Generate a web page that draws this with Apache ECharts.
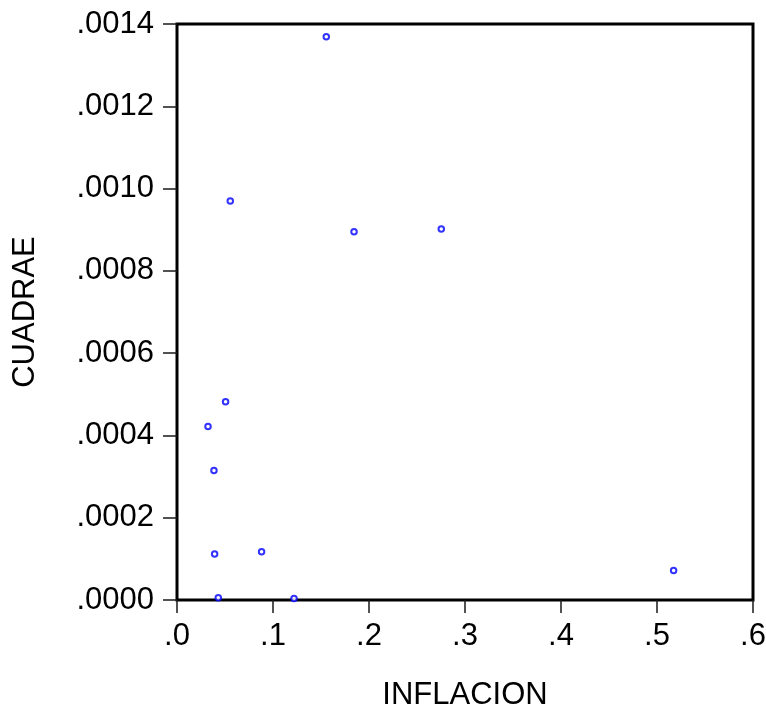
<!DOCTYPE html>
<html>
<head>
<meta charset="utf-8">
<script src="https://cdn.jsdelivr.net/npm/echarts@6/dist/echarts.min.js"></script>
<style>
  html, body { margin: 0; padding: 0; background: #ffffff; }
  #chart { width: 766px; height: 711px; }
</style>
</head>
<body>
<div id="chart"></div>
<script>
// Scatter of CUADRAE against INFLACION
const inflacion = [0.1555, 0.0555, 0.1844, 0.2753, 0.0506, 0.0323, 0.0385, 0.0392, 0.0881, 0.0430, 0.1219, 0.5173];
const cuadrae   = [0.001369, 0.000970, 0.000895, 0.000902, 0.000482, 0.000422, 0.000315, 0.000112, 0.000117, 0.0000053, 0.0000036, 0.0000717];

const xName = 'INFLACION';
const yName = 'CUADRAE';
const xRange = { min: 0, max: 0.6, step: 0.1 };
const yRange = { min: 0, max: 0.0014, step: 0.0002 };

const points = inflacion.map((x, i) => [x, cuadrae[i]]);

const font = 'Liberation Sans, Arial, sans-serif';
const fontSize = 31;

const chart = echarts.init(document.getElementById('chart'), null, { renderer: 'canvas' });

chart.setOption({
  backgroundColor: '#ffffff',
  animation: false,
  grid: {
    left: 177, top: 24, width: 576, height: 576,
    outerBoundsMode: 'none', containLabel: false,
    show: true, borderColor: '#000000', borderWidth: 3, backgroundColor: 'transparent'
  },
  xAxis: {
    type: 'value',
    min: xRange.min, max: xRange.max, interval: xRange.step,
    name: xName, nameLocation: 'middle', nameGap: 80,
    nameTextStyle: { fontFamily: font, fontSize: fontSize, color: '#000' },
    axisLine: { show: false },
    axisTick: { show: true, inside: false, length: 13, lineStyle: { color: '#1a1a1a', width: 1.5 } },
    splitLine: { show: false },
    axisLabel: {
      margin: 21, fontFamily: font, fontSize: fontSize, color: '#000',
      formatter: v => v.toFixed(1).replace(/^0/, '')
    }
  },
  yAxis: {
    type: 'value',
    min: yRange.min, max: yRange.max, interval: yRange.step,
    name: yName, nameLocation: 'middle', nameGap: 136, nameRotate: 90,
    nameTextStyle: { fontFamily: font, fontSize: fontSize, color: '#000' },
    axisLine: { show: false },
    axisTick: { show: true, inside: false, length: 14, lineStyle: { color: '#1a1a1a', width: 1.5 } },
    splitLine: { show: false },
    axisLabel: {
      margin: 23, fontFamily: font, fontSize: fontSize, color: '#000',
      padding: [0, 0, 10, 0],
      formatter: v => v.toFixed(4).replace(/^0/, '')
    }
  },
  series: [{
    type: 'scatter',
    data: points,
    symbol: 'emptyCircle',
    symbolSize: 5.5,
    itemStyle: { color: '#0000ff', borderColor: '#0000ff', borderWidth: 2.3 }
  }]
});
</script>
</body>
</html>
